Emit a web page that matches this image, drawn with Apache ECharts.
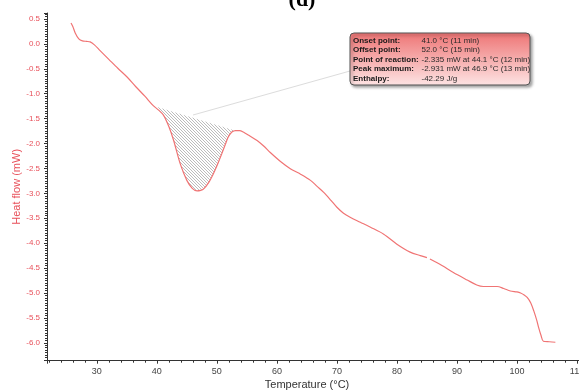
<!DOCTYPE html>
<html>
<head>
<meta charset="utf-8">
<script src="https://cdn.jsdelivr.net/npm/echarts@6/dist/echarts.min.js"></script>
<style>
html,body{margin:0;padding:0;background:#fff;}
#chart{width:579px;height:392px;}
</style>
</head>
<body>
<div id="chart"></div>
<script>
// Temperature (°C) and heat flow (mW)
var temperature = [25.7,26.0,26.4,27.0,27.6,28.3,28.9,29.6,30.5,32.0,33.5,35.0,36.5,38.0,39.4,40.3,41.1,42.0,42.8,43.9,45.0,45.9,46.7,47.3,47.8,48.6,49.4,50.1,50.8,51.4,51.9,52.5,53.1,53.8,54.4,55.5,56.7,57.8,58.9,60.6,62.3,64.0,65.6,66.7,67.8,69.0,70.0,71.1,72.2,73.9,75.6,77.8,80.0,82.2,83.9,85.0,85.5,87.5,89.4,91.7,93.3,94.4,95.5,96.7,97.8,98.9,100.0,100.6,101.2,101.7,102.3,102.8,103.3,103.6,104.0,104.4,105.4,106.4];
var heatFlow    = [0.42,0.35,0.22,0.10,0.06,0.05,0.04,-0.02,-0.13,-0.31,-0.49,-0.66,-0.86,-1.05,-1.24,-1.33,-1.43,-1.66,-1.94,-2.41,-2.74,-2.90,-2.95,-2.94,-2.91,-2.79,-2.61,-2.42,-2.21,-2.02,-1.87,-1.77,-1.74,-1.74,-1.77,-1.85,-1.94,-2.05,-2.18,-2.36,-2.51,-2.62,-2.74,-2.86,-2.98,-3.14,-3.28,-3.40,-3.48,-3.58,-3.68,-3.82,-4.02,-4.18,-4.25,-4.29,-4.32,-4.45,-4.59,-4.74,-4.84,-4.87,-4.87,-4.87,-4.91,-4.96,-4.98,-5.00,-5.04,-5.09,-5.20,-5.36,-5.55,-5.69,-5.85,-5.97,-5.98,-5.99];
// integration baseline of the peak (start / end points)
var baselineT = [39.4, 53.0];
var baselineV = [-1.24, -1.74];
// tooltip box text
var infoLabels = ['Onset point:', 'Offset point:', 'Point of reaction:', 'Peak maximum:', 'Enthalpy:'];
var infoValues = ['41.0 \u00b0C (11 min)', '52.0 \u00b0C (15 min)', '-2.335 mW at 44.1 \u00b0C (12 min)', '-2.931 mW at 46.9 \u00b0C (13 min)', '-42.29 J/g'];
var xRange = [21.7, 111];
var yRange = [-6.36, 0.62];

var curve = [];
for (var i = 0; i < temperature.length; i++) {
  curve.push([temperature[i], heatFlow[i]]);
  if (temperature[i] === 85.0) curve.push([85.2, null]);
}

function interp(t) {
  for (var i = 0; i < temperature.length - 1; i++) {
    if (t >= temperature[i] && t <= temperature[i + 1]) {
      var f = (t - temperature[i]) / (temperature[i + 1] - temperature[i]);
      return heatFlow[i] + f * (heatFlow[i + 1] - heatFlow[i]);
    }
  }
  return null;
}

// hatch pattern
var pc = document.createElement('canvas');
pc.width = 3; pc.height = 3;
var pctx = pc.getContext('2d');
pctx.strokeStyle = '#b4b4b4';
pctx.lineWidth = 0.9;
pctx.beginPath();
pctx.moveTo(-1, -1); pctx.lineTo(4, 4);
pctx.moveTo(-1, 2); pctx.lineTo(1, 4);
pctx.moveTo(2, -1); pctx.lineTo(4, 1);
pctx.stroke();

var chart = echarts.init(document.getElementById('chart'), null, {renderer: 'canvas'});

var graphics = [
  {
    type: 'text', z: 10, x: 302, y: 11,
    style: {text: '(d)', font: 'bold 22px "Liberation Serif"', fill: '#000',
      textAlign: 'center', textVerticalAlign: 'bottom'}
  },
  {
    type: 'line', z: 5,
    shape: {x1: 193, y1: 115, x2: 350, y2: 71},
    style: {stroke: '#dcdcdc', lineWidth: 1}
  },
  {
    type: 'rect', z: 6,
    shape: {x: 350, y: 33, width: 180, height: 52, r: 4},
    style: {
      fill: {type: 'linear', x: 0, y: 0, x2: 0, y2: 1, colorStops: [
        {offset: 0, color: '#ee7474'}, {offset: 1, color: '#fde4e4'}]},
      stroke: '#555', lineWidth: 1,
      shadowBlur: 3, shadowColor: 'rgba(0,0,0,0.35)', shadowOffsetX: 2, shadowOffsetY: 2
    }
  }
];
for (var k = 0; k < infoLabels.length; k++) {
  graphics.push({
    type: 'text', z: 7, x: 353, y: 36.5 + k * 9.5,
    style: {text: infoLabels[k], font: 'bold 8px "Liberation Sans"', fill: '#1a1a1a'}
  });
  graphics.push({
    type: 'text', z: 7, x: 421.5, y: 36.5 + k * 9.5,
    style: {text: infoValues[k], font: '8px "Liberation Sans"', fill: '#2a2a2a'}
  });
}

var option = {
  animation: false,
  backgroundColor: '#fff',
  grid: {left: 47, top: 13, width: 536, bottom: 31.3, containLabel: false, outerBoundsMode: 'none'},
  xAxis: {
    type: 'value', min: xRange[0], max: xRange[1], splitNumber: 9,
    name: 'Temperature (\u00b0C)', nameLocation: 'middle', nameGap: 19,
    nameMoveOverlap: false,
    nameTextStyle: {color: '#333', fontSize: 11, fontFamily: 'Liberation Sans', padding: [0, 16, 0, 0]},
    axisLine: {show: true, onZero: false, lineStyle: {color: '#333', width: 1}},
    axisTick: {show: true, length: 3, lineStyle: {color: '#333'}},
    minorTick: {show: true, splitNumber: 5, length: 2, lineStyle: {color: '#333'}},
    splitLine: {show: false},
    axisLabel: {color: '#444', fontSize: 9, fontFamily: 'Liberation Sans', margin: 6,
      showMinLabel: false, showMaxLabel: false}
  },
  yAxis: {
    type: 'value', min: yRange[0], max: yRange[1], splitNumber: 14,
    name: 'Heat flow (mW)', nameLocation: 'middle', nameGap: 25,
    nameMoveOverlap: false,
    nameTextStyle: {color: '#e8505a', fontSize: 11, fontFamily: 'Liberation Sans'},
    axisLine: {show: true, onZero: false, lineStyle: {color: '#333', width: 1}},
    axisTick: {show: true, length: 3, lineStyle: {color: '#333'}},
    minorTick: {show: true, splitNumber: 10, length: 2, lineStyle: {color: '#333'}},
    splitLine: {show: false},
    axisLabel: {color: '#e8505a', fontSize: 8, fontFamily: 'Liberation Sans', margin: 7,
      showMinLabel: false, showMaxLabel: false,
      formatter: function (v) { return v.toFixed(1); }}
  },
  series: [
    {
      type: 'custom',
      data: [[baselineT[0], baselineV[0]]],
      z: 1,
      renderItem: function (params, api) {
        var pts = [];
        pts.push(api.coord([baselineT[0], baselineV[0]]));
        for (var i = 0; i < temperature.length; i++) {
          if (temperature[i] > baselineT[0] && temperature[i] < baselineT[1]) {
            pts.push(api.coord([temperature[i], heatFlow[i]]));
          }
        }
        pts.push(api.coord([baselineT[1], interp(baselineT[1])]));
        pts.push(api.coord([baselineT[1], baselineV[1]]));
        return {
          type: 'polygon',
          shape: {points: pts},
          style: {fill: {image: pc, repeat: 'repeat'}, stroke: null}
        };
      }
    },
    {
      type: 'line',
      data: curve,
      showSymbol: false,
      smooth: 0.3,
      connectNulls: false,
      z: 3,
      lineStyle: {color: '#f07474', width: 1.2}
    }
  ],
  graphic: graphics
};
chart.setOption(option);
</script>
</body>
</html>
